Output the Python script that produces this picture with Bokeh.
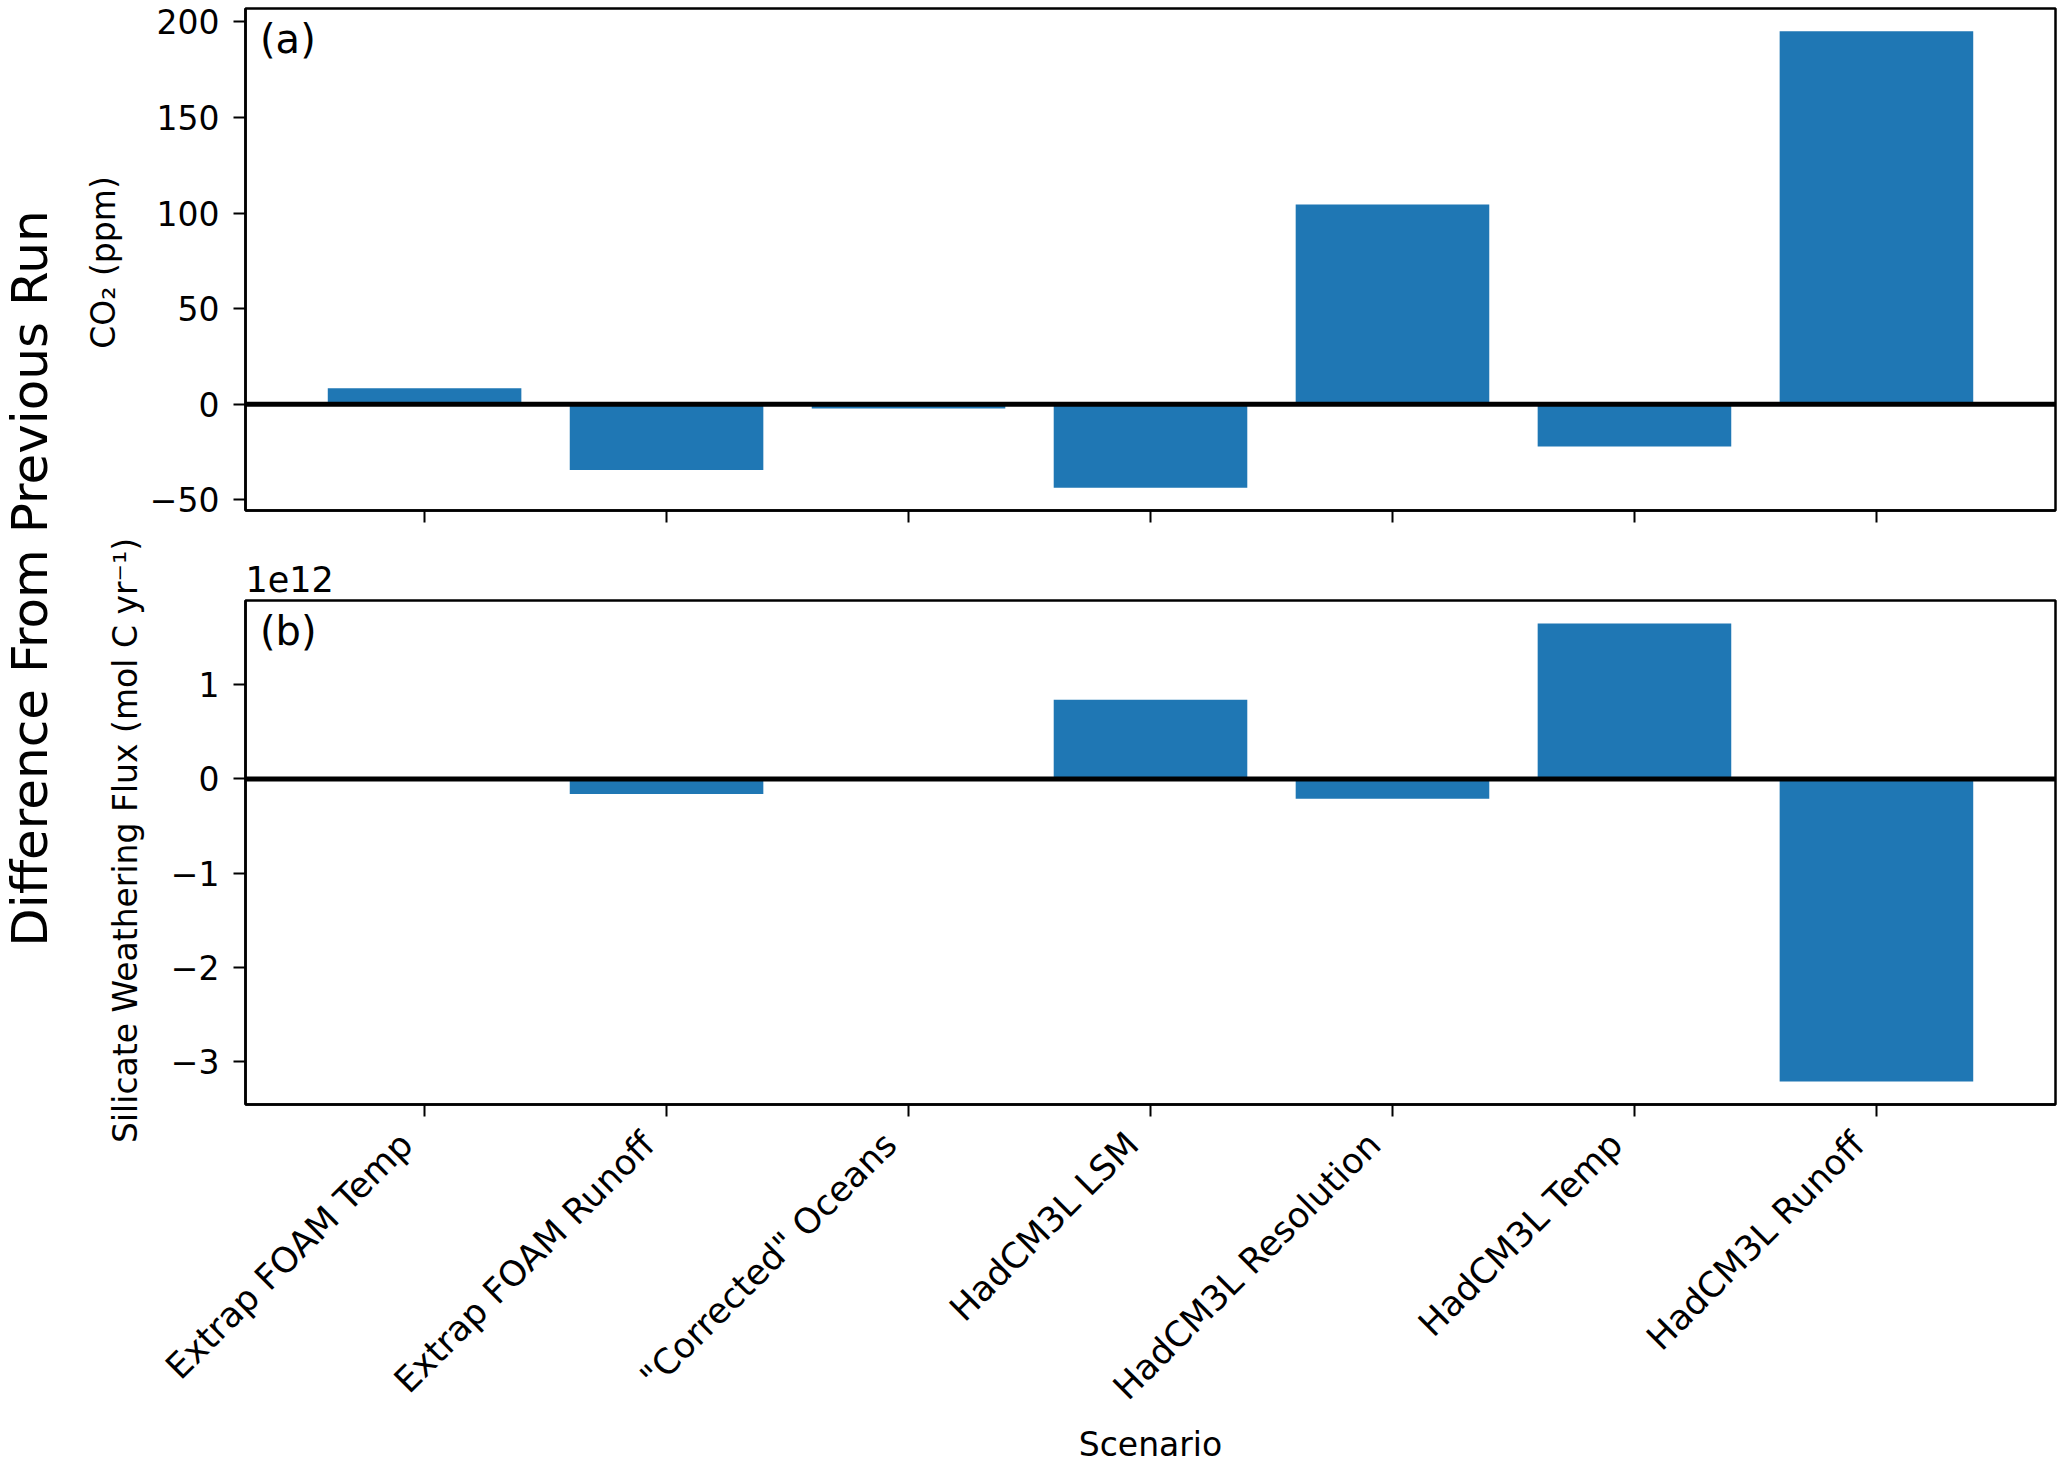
import math
from bokeh.plotting import figure
from bokeh.models import Range1d, FixedTicker, Span, Label, LinearAxis
from bokeh.layouts import row, column
from bokeh.embed import file_html
from bokeh.resources import INLINE

# ---------------- data ----------------
scenarios = ["Extrap FOAM Temp", "Extrap FOAM Runoff", '"Corrected" Oceans',
             "HadCM3L LSM", "HadCM3L Resolution", "HadCM3L Temp", "HadCM3L Runoff"]
co2_diff = [8.4, -34.3, -2.2, -43.6, 104.5, -22.1, 195.0]          # ppm
flux_diff = [0.0, -0.16, 0.0, 0.84, -0.21, 1.65, -3.21]           # x 1e12 mol C / yr
co2_ticks = [-50, 0, 50, 100, 150, 200]
flux_ticks = [-3, -2, -1, 0, 1]

FONT = "DejaVu Sans"
BLUE = "#1f77b4"
FS = "33px"

xs = list(range(len(scenarios)))
bar_w = 0.8


def padded(lo, hi, frac=0.05):
    d = hi - lo
    return lo - frac * d, hi + frac * d


x_lo, x_hi = padded(-bar_w / 2, len(scenarios) - 1 + bar_w / 2)
shared_x = Range1d(x_lo, x_hi)

SIDE_W = 146
MAIN_W = 2067 - SIDE_W
LEFT_B = 244 - SIDE_W
H1 = 540
H2 = 926


def minus(v):
    return ("%g" % v).replace("-", "\u2212")


def style_axis(ax):
    ax.axis_line_width = 2.5
    ax.axis_line_color = "black"
    ax.major_tick_line_width = 2
    ax.major_tick_line_color = "black"
    ax.major_tick_out = 12
    ax.major_tick_in = 0
    ax.minor_tick_line_color = None
    ax.major_label_text_font = FONT
    ax.major_label_text_font_size = FS
    ax.major_label_text_color = "black"
    ax.major_label_standoff = 14
    ax.axis_label_text_font = FONT
    ax.axis_label_text_font_size = FS
    ax.axis_label_text_font_style = "normal"
    ax.axis_label_text_color = "black"


def style(p, yticks):
    p.xgrid.visible = False
    p.ygrid.visible = False
    p.outline_line_color = "black"
    p.outline_line_width = 2.5
    style_axis(p.xaxis[0])
    style_axis(p.yaxis[0])
    p.xaxis.ticker = FixedTicker(ticks=xs)
    p.yaxis.ticker = FixedTicker(ticks=yticks)
    p.yaxis.major_label_overrides = {t: minus(t) for t in yticks}


# ---------------- panel (a) ----------------
lo1, hi1 = padded(min(min(co2_diff), 0), max(max(co2_diff), 0))
p1 = figure(width=MAIN_W, height=H1, x_range=shared_x, y_range=Range1d(lo1, hi1),
            toolbar_location=None, output_backend="svg",
            min_border_left=LEFT_B, min_border_right=12, min_border_top=8, min_border_bottom=30)
p1.vbar(x=xs, top=co2_diff, bottom=0, width=bar_w, fill_color=BLUE, line_color=None)
p1.add_layout(Span(location=0, dimension="width", line_color="black", line_width=5))
style(p1, co2_ticks)
p1.xaxis.major_label_overrides = {i: "" for i in xs}
p1.add_layout(Label(x=x_lo + 0.06, y=hi1 - 0.015 * (hi1 - lo1), text="(a)",
                    text_font=FONT, text_font_size="40px", text_baseline="top",
                    text_align="left", text_color="black"))

# ---------------- panel (b) ----------------
lo2, hi2 = padded(min(min(flux_diff), 0), max(max(flux_diff), 0))
p2 = figure(width=MAIN_W, height=H2, x_range=shared_x, y_range=Range1d(lo2, hi2),
            toolbar_location=None, output_backend="svg", title="1e12",
            min_border_left=LEFT_B, min_border_right=12, min_border_top=60, min_border_bottom=360)
p2.vbar(x=xs, top=flux_diff, bottom=0, width=bar_w, fill_color=BLUE, line_color=None)
p2.add_layout(Span(location=0, dimension="width", line_color="black", line_width=5))
style(p2, flux_ticks)
p2.title.align = "left"
p2.title.text_font = FONT
p2.title.text_font_size = "35px"
p2.title.text_font_style = "normal"
p2.title.text_color = "black"
p2.title.standoff = 17

# primary x axis: tick marks only
p2.xaxis[0].major_label_overrides = {i: "" for i in xs}
p2.xaxis[0].major_label_text_font_size = "0px"
p2.xaxis[0].major_label_standoff = 0

# second axis carries the slanted scenario names, anchored like matplotlib (ha="right")
shift = 0.075
lab_ticks = [i - shift for i in xs]
lab_axis = LinearAxis(ticker=FixedTicker(ticks=lab_ticks),
                      major_label_overrides={t: s for t, s in zip(lab_ticks, scenarios)})
style_axis(lab_axis)
lab_axis.axis_line_color = None
lab_axis.major_tick_line_color = None
lab_axis.major_tick_out = 0
lab_axis.major_label_standoff = 22
lab_axis.major_label_text_font_size = "35px"
lab_axis.major_label_orientation = math.pi / 4
lab_axis.axis_label = "Scenario"
lab_axis.axis_label_standoff = 0
p2.add_layout(lab_axis, "below")

p2.add_layout(Label(x=x_lo + 0.06, y=hi2 - 0.015 * (hi2 - lo2), text="(b)",
                    text_font=FONT, text_font_size="40px", text_baseline="top",
                    text_align="left", text_color="black"))

# ---------------- y labels (shared strip on the left) ----------------
HT = H1 + H2
side = figure(width=SIDE_W, height=HT, x_range=Range1d(0, SIDE_W), y_range=Range1d(0, HT),
              toolbar_location=None, output_backend="svg", min_border=0)
side.axis.visible = False
side.grid.visible = False
side.outline_line_color = None


def vlabel(text, x, y_from_top, size):
    side.add_layout(Label(x=x, y=HT - y_from_top, text=text, angle=math.pi / 2,
                          text_font=FONT, text_font_size=size, text_align="center",
                          text_baseline="middle", text_color="black"))


vlabel("Difference From Previous Run", 29, 578, "50px")
vlabel("CO\u2082 (ppm)", 103, 262, FS)
vlabel("Silicate Weathering Flux (mol C yr\u207b\u00b9)", 125, 840, FS)

layout = row(side, column(p1, p2, spacing=0), spacing=0)

open("out.html", "w").write(file_html(layout, INLINE))
